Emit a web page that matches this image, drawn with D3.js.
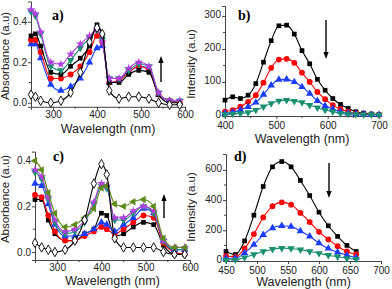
<!DOCTYPE html>
<html><head><meta charset="utf-8">
<script src="https://cdn.jsdelivr.net/npm/d3@7"></script>
<style>body{margin:0;background:#fff}svg{display:block}</style>
</head><body>
<svg id="c" width="392" height="289"></svg>
<script>
// ---------- DATA ----------
const waveA = [250, 260, 272, 295, 318, 340, 362, 383, 400, 412, 428, 450, 472, 495, 518, 540, 565, 588];
const absA_purple = [0.46, 0.44, 0.35, 0.20, 0.19, 0.24, 0.29, 0.33, 0.36, 0.30, 0.12, 0.12, 0.17, 0.20, 0.18, 0.05, 0.01, 0.01];
const absA_green  = [0.45, 0.43, 0.34, 0.18, 0.16, 0.21, 0.27, 0.32, 0.36, 0.31, 0.12, 0.12, 0.16, 0.19, 0.18, 0.05, 0.01, 0.01];
const absA_black  = [0.33, 0.34, 0.28, 0.15, 0.14, 0.18, 0.22, 0.28, 0.385, 0.33, 0.10, 0.10, 0.14, 0.16, 0.15, 0.04, 0.00, 0.00];
const absA_red    = [0.31, 0.31, 0.25, 0.12, 0.12, 0.14, 0.18, 0.25, 0.33, 0.30, 0.10, 0.11, 0.15, 0.18, 0.16, 0.04, 0.01, 0.00];
const absA_blue   = [0.29, 0.29, 0.22, 0.09, 0.06, 0.08, 0.12, 0.20, 0.27, 0.28, 0.10, 0.11, 0.15, 0.18, 0.17, 0.04, 0.01, 0.00];
const absA_open   = [0.04, 0.03, 0.01, 0.00, 0.01, 0.05, 0.15, 0.30, 0.37, 0.34, 0.06, 0.02, 0.03, 0.03, 0.02, 0.00, -0.01, -0.01];

const waveB = [400, 415, 430, 445, 460, 475, 490, 505, 520, 535, 550, 565, 580, 595, 610, 625, 640, 655, 670, 685, 700];
const emB_black = [45, 55, 50, 60, 95, 160, 225, 270, 272, 245, 195, 155, 108, 75, 50, 32, 20, 10, 6, 3, 2];
const emB_red   = [10, 15, 25, 40, 60, 98, 143, 168, 170, 158, 128, 100, 70, 48, 30, 18, 10, 5, 3, 2, 1];
const emB_blue  = [5, 8, 15, 25, 38, 62, 90, 107, 108, 100, 85, 65, 43, 28, 18, 10, 5, 3, 2, 1, 1];
const emB_green = [2, 3, 5, 8, 15, 25, 35, 43, 45, 42, 38, 30, 22, 15, 10, 5, 3, 2, 1, 1, 0];

const waveC = [250, 265, 280, 295, 318, 340, 362, 383, 400, 412, 430, 450, 472, 495, 518, 540, 565, 588];
const absC_olive  = [0.40, 0.36, 0.26, 0.17, 0.11, 0.12, 0.15, 0.19, 0.28, 0.29, 0.21, 0.20, 0.22, 0.23, 0.20, 0.06, 0.02, 0.02];
const absC_purple = [0.36, 0.33, 0.24, 0.14, 0.09, 0.10, 0.14, 0.22, 0.30, 0.29, 0.15, 0.15, 0.18, 0.20, 0.18, 0.05, 0.02, 0.02];
const absC_green  = [0.35, 0.32, 0.23, 0.13, 0.08, 0.09, 0.13, 0.21, 0.29, 0.28, 0.14, 0.14, 0.17, 0.20, 0.17, 0.05, 0.01, 0.01];
const absC_blue   = [0.30, 0.29, 0.21, 0.12, 0.07, 0.07, 0.08, 0.10, 0.13, 0.12, 0.09, 0.12, 0.15, 0.19, 0.17, 0.05, 0.01, 0.01];
const absC_red    = [0.25, 0.24, 0.16, 0.09, 0.05, 0.05, 0.07, 0.09, 0.11, 0.10, 0.08, 0.10, 0.13, 0.16, 0.15, 0.04, 0.00, -0.01];
const absC_black  = [0.23, 0.23, 0.14, 0.08, 0.05, 0.05, 0.08, 0.10, 0.17, 0.16, 0.07, 0.08, 0.11, 0.13, 0.12, 0.03, -0.01, -0.01];
const absC_open   = [0.04, 0.02, 0.01, 0.00, 0.01, 0.05, 0.14, 0.30, 0.385, 0.34, 0.06, 0.02, 0.02, 0.02, 0.02, 0.00, -0.01, -0.01];

const waveD = [450, 465, 480, 495, 510, 525, 540, 555, 570, 585, 600, 615, 630, 645, 660];
const emD_black = [60, 40, 130, 300, 490, 620, 655, 620, 530, 430, 320, 230, 160, 100, 60];
const emD_red   = [30, 25, 80, 175, 285, 360, 385, 370, 315, 255, 190, 140, 95, 60, 40];
const emD_blue  = [15, 15, 50, 105, 170, 215, 230, 225, 195, 160, 115, 80, 55, 35, 20];
const emD_green = [5, 5, 20, 40, 60, 75, 82, 80, 72, 60, 48, 35, 25, 15, 10];

const ticksAbsX = [300, 400, 500, 600];
const ticksAbsY = [0.0, 0.2, 0.4];
const ticksBX = [400, 500, 600, 700];
const ticksBY = [0, 100, 200, 300];
const ticksDX = [450, 500, 550, 600, 650, 700];
const ticksDY = [0, 200, 400, 600];
const panelLabels = ["a)", "b)", "c)", "d)"];
const xTitle = "Wavelength (nm)";
const yTitleAbs = "Absorbance (a.u)";
const yTitleEm = "Intensity (a.u)";

// ---------- STYLE ----------
const COL = {black:"#000000", red:"#ff0000", blue:"#1a3cff", green:"#199070", purple:"#b13ee0", olive:"#5e8a1a", open:"#000000"};

const svg = d3.select("#c");
const FONT = "Liberation Sans, Arial, sans-serif";

function symbolFor(kind){
  switch(kind){
    case "square": return d3.symbol(d3.symbolSquare, 22);
    case "circle": return d3.symbol(d3.symbolCircle, 26);
    case "up": return d3.symbol(d3.symbolTriangle, 24);
    case "down": return d3.symbol(d3.symbolTriangle, 24);
    case "star": return d3.symbol(d3.symbolStar, 24);
    case "diamond": return d3.symbol(d3.symbolDiamond, 26);
    case "left": return d3.symbol(d3.symbolTriangle, 24);
  }
}
function rot(kind){ return kind==="down"?180:(kind==="left"?-90:0); }

function panel(cfg){
  const x = d3.scaleLinear().domain(cfg.xd).range(cfg.xr);
  const y = d3.scaleLinear().domain(cfg.yd).range(cfg.yr);
  const g = svg.append("g");
  const xa = d3.axisBottom(x).tickValues(cfg.xt).tickSize(3).tickPadding(cfg.xpad || 1).tickFormat(cfg.xf || d3.format("d"));
  const ya = d3.axisLeft(y).tickValues(cfg.yt).tickSize(3).tickPadding(1).tickFormat(cfg.yf);
  const gx = g.append("g").attr("transform",`translate(0,${cfg.yr[0]})`).call(xa);
  const gy = g.append("g").attr("transform",`translate(${cfg.xr[0]},0)`).call(ya);
  if(cfg.xm){ gx.selectAll(".mx").data(cfg.xm).enter().append("line").attr("x1",d=>x(d)).attr("x2",d=>x(d)).attr("y1",0).attr("y2",2).attr("stroke","#444"); }
  if(cfg.ym){ gy.selectAll(".my").data(cfg.ym).enter().append("line").attr("y1",d=>y(d)).attr("y2",d=>y(d)).attr("x1",0).attr("x2",-2).attr("stroke","#444"); }
  [gx,gy].forEach(a=>{
    a.selectAll("path").attr("stroke","#444");
    a.selectAll(".tick line").attr("stroke","#444");
    a.selectAll("text").attr("font-family",FONT).attr("font-size",10).attr("fill","#222");
  });
  if(cfg.ydy) gy.selectAll("text").attr("dy",cfg.ydy);
  g.append("text").attr("x",(cfg.xr[0]+cfg.xr[1])/2).attr("y",cfg.xtY)
    .attr("text-anchor","middle").attr("font-family",FONT).attr("font-size",12.5).attr("fill","#222").text(xTitle);
  g.append("text").attr("transform",`translate(${cfg.ytX},${cfg.ytY}) rotate(-90)`)
    .attr("text-anchor","middle").attr("font-family",FONT).attr("font-size",11.5).attr("fill","#222").text(cfg.ytitle);
  const line = d3.line().x(d=>x(d[0])).y(d=>y(d[1])).curve(d3.curveMonotoneX);
  cfg.series.forEach(s=>{
    const pts = cfg.wave.map((w,i)=>[w,s.v[i]]);
    g.append("path").attr("d",line(pts)).attr("fill","none").attr("stroke",s.c).attr("stroke-width",1.1);
    g.selectAll(null).data(pts).enter().append("path")
      .attr("d",symbolFor(s.m)())
      .attr("transform",d=>`translate(${x(d[0])},${y(d[1])}) rotate(${rot(s.m)})`)
      .attr("fill",s.open?"#fff":s.c).attr("stroke",s.open?"#000":"none").attr("stroke-width",0.9);
  });
  g.append("text").attr("x",cfg.lab[0]).attr("y",cfg.lab[1]).attr("font-family","Liberation Serif, Times New Roman, serif")
    .attr("font-weight","bold").attr("font-size",14).attr("fill","#000").text(cfg.label);
  const a = cfg.arrow;
  g.append("line").attr("x1",a[0]).attr("x2",a[0]).attr("y1",a[1]).attr("y2",a[2] + (a[2]<a[1]?5:-5)).attr("stroke","#000").attr("stroke-width",1.4);
  const dir = a[2]<a[1]? -1 : 1;
  g.append("path").attr("d",`M${a[0]},${a[2]} L${a[0]-2.6},${a[2]-dir*7} L${a[0]+2.6},${a[2]-dir*7} Z`).attr("fill","#000");
}

const fmt1 = d3.format(".1f");

panel({xd:[250,600], xr:[31,185], yd:[-0.02,0.5], yr:[106.8,1.5], wave:waveA,
  xt:ticksAbsX, yt:ticksAbsY, yf:fmt1, xm:[350,450,550], ym:[0.1,0.3],
  xtY:133, ytX:9, ytY:56, ytitle:yTitleAbs, label:panelLabels[0], lab:[52,20], arrow:[161,82,56],
  series:[
    {v:absA_blue,c:COL.blue,m:"up"},
    {v:absA_red,c:COL.red,m:"circle"},
    {v:absA_black,c:COL.black,m:"square"},
    {v:absA_green,c:COL.green,m:"down"},
    {v:absA_purple,c:COL.purple,m:"star"},
    {v:absA_open,c:COL.open,m:"diamond",open:true}
  ]});

panel({xd:[400,700], xr:[225,379], yd:[-3,330], yr:[116,6], wave:waveB,
  xt:ticksBX, yt:ticksBY, yf:d3.format("d"), xm:[450,550,650], ym:[50,150,250], xpad:2.5, ydy:"0.2em",
  xtY:142.5, ytX:195, ytY:64, ytitle:yTitleEm, label:panelLabels[1], lab:[238,20], arrow:[326,20,59],
  series:[
    {v:emB_black,c:COL.black,m:"square"},
    {v:emB_red,c:COL.red,m:"circle"},
    {v:emB_blue,c:COL.blue,m:"up"},
    {v:emB_green,c:COL.green,m:"down"}
  ]});

panel({xd:[250,600], xr:[35,190], yd:[-0.035,0.44], yr:[260,151.6], wave:waveC,
  xt:ticksAbsX, yt:ticksAbsY, yf:fmt1, xm:[350,450,550], ym:[0.1,0.3],
  xtY:285, ytX:9, ytY:199, ytitle:yTitleAbs, label:panelLabels[2], lab:[53,161], arrow:[164,218,194],
  series:[
    {v:absC_black,c:COL.black,m:"square"},
    {v:absC_red,c:COL.red,m:"circle"},
    {v:absC_blue,c:COL.blue,m:"up"},
    {v:absC_green,c:COL.green,m:"down"},
    {v:absC_purple,c:COL.purple,m:"star"},
    {v:absC_olive,c:COL.olive,m:"left"},
    {v:absC_open,c:COL.open,m:"diamond",open:true}
  ]});

panel({xd:[450,700], xr:[226,381], yd:[-3,705], yr:[261,154], wave:waveD,
  xt:ticksDX, yt:ticksDY, yf:d3.format("d"), xm:[], ym:[100,300,500], xpad:2.5, ydy:"0.2em",
  xtY:286, ytX:195, ytY:207, ytitle:yTitleEm, label:panelLabels[3], lab:[234,161], arrow:[329,163,198],
  series:[
    {v:emD_black,c:COL.black,m:"square"},
    {v:emD_red,c:COL.red,m:"circle"},
    {v:emD_blue,c:COL.blue,m:"up"},
    {v:emD_green,c:COL.green,m:"down"}
  ]});
</script>
</body></html>
